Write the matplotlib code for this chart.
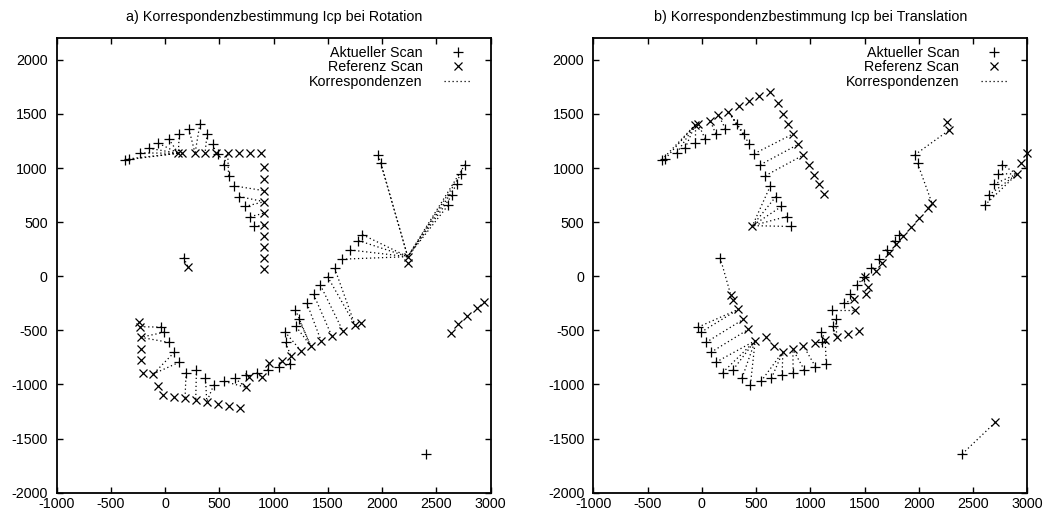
import numpy as np
import matplotlib
matplotlib.use("Agg")
import matplotlib.pyplot as plt
from matplotlib.collections import LineCollection

plt.rcParams['font.family'] = ['Liberation Sans', 'DejaVu Sans']
plt.rcParams['axes.unicode_minus'] = False

# current scan (same in both panels)
scan_x = [-369, -338, -230, -154, -62, 31, 129, 218, 320, 386, 439, 482, 538,
          584, 632, 683, 734, 783, 821,
          169,
          -35, -8, 38, 83, 130, 192, 288, 371, 448, 545, 642, 740, 842, 945,
          1047, 1147,
          1102, 1110, 1205, 1233, 1200, 1306, 1367, 1429, 1496, 1561, 1629,
          1705, 1780, 1818,
          1963, 1988, 2606, 2643, 2689, 2729, 2763,
          2400]
scan_y = [1075, 1085, 1140, 1183, 1230, 1270, 1316, 1362, 1410, 1318, 1222,
          1132, 1030, 928, 836, 737, 645, 552, 460,
          172,
          -470, -517, -612, -703, -794, -890, -864, -940, -1003, -972, -942,
          -917, -890, -866, -835, -811,
          -512, -612, -464, -398, -310, -249, -166, -80, -3, 75, 158, 243,
          330, 384,
          1122, 1045, 655, 748, 850, 948, 1032,
          -1642]

# reference scan, rotated case
rot_x = [121, 152, 275, 367, 468, 576, 680, 782, 883,
         911, 911, 911, 911, 911, 911, 911, 911, 911, 911,
         213,
         2235, 2235,
         2631, 2702, 2784, 2871, 2941,
         -239, -232, -226, -226, -226, -207, -110, -64, -18, 81, 183, 281,
         383, 484, 588, 690, 742, 775, 889, 960, 1074, 1157, 1249, 1341,
         1436, 1535, 1636, 1749, 1802]
rot_y = [1137, 1137, 1137, 1137, 1137, 1137, 1137, 1137, 1137,
         1007, 896, 791, 689, 582, 474, 372, 274, 172, 67,
         83,
         181, 120,
         -521, -441, -367, -296, -240,
         -419, -466, -564, -672, -773, -891, -903, -1014, -1097, -1112,
         -1127, -1143, -1159, -1180, -1198, -1214, -1026, -933, -933, -797,
         -780, -736, -687, -644, -595, -552, -503, -450, -429]

# reference scan, translated case
trans_x = [-62, -35, 77, 153, 245, 344, 439, 531, 630, 701, 744, 793, 839,
           891, 937, 990, 1036, 1079, 1128,
           467,
           267, 292, 338, 384, 430, 492, 593, 667, 747, 839, 937, 1039, 1137,
           1245, 1350, 1450,
           1405, 1415, 1510, 1535, 1500, 1608, 1660, 1728, 1790, 1854, 1928,
           2005, 2081, 2122,
           2260, 2281, 2906, 2946, 2998,
           2706]
trans_y = [1398, 1410, 1438, 1491, 1522, 1576, 1622, 1668, 1707, 1599, 1497,
           1408, 1315, 1220, 1121, 1029, 937, 851, 758,
           468,
           -173, -219, -305, -397, -490, -595, -564, -644, -697, -675, -644,
           -613, -589, -564, -532, -510,
           -212, -310, -160, -98, -4, 49, 126, 213, 295, 372, 453, 542, 628,
           674,
           1423, 1352, 945, 1044, 1142,
           -1349]

titles = ["a) Korrespondenzbestimmung Icp bei Rotation",
          "b) Korrespondenzbestimmung Icp bei Translation"]
max_dist = 1100
fs = 10.3


def correspondences(ax_, ay_, bx_, by_):
    a = np.column_stack([ax_, ay_]).astype(float)
    b = np.column_stack([bx_, by_]).astype(float)
    segs = []
    for p in a:
        d = np.hypot(b[:, 0] - p[0], b[:, 1] - p[1])
        i = np.argmin(d)
        if d[i] < max_dist:
            segs.append([p, b[i]])
    return segs


fig = plt.figure(figsize=(10.54, 5.19), dpi=100)
positions = [[0.0538, 0.0507, 0.4118, 0.8767],
             [0.5629, 0.0507, 0.4118, 0.8767]]
refs = [(rot_x, rot_y), (trans_x, trans_y)]

for pos, (rx, ry), title in zip(positions, refs, titles):
    ax = fig.add_axes(pos)
    ax.plot(scan_x, scan_y, "+", color="black", ms=6.5, mew=0.9,
            label="Aktueller Scan", clip_on=False)
    ax.plot(rx, ry, "x", color="black", ms=5.5, mew=0.9,
            label="Referenz Scan", clip_on=False)
    lc = LineCollection(correspondences(scan_x, scan_y, rx, ry),
                        colors="black", linewidths=0.9,
                        linestyles=[(0, (1, 2.2))], label="Korrespondenzen")
    ax.add_collection(lc)

    ax.set_xlim(-1000, 3000)
    ax.set_ylim(-2000, 2205)
    ax.set_xticks(np.arange(-1000, 3001, 500))
    ax.set_yticks(np.arange(-2000, 2001, 500))
    ax.tick_params(direction="in", length=4.5, width=1.0, labelsize=fs,
                   top=True, right=True)
    ax.tick_params(axis="x", pad=3)
    ax.tick_params(axis="y", pad=6.5)
    for s in ax.spines.values():
        s.set_linewidth(1.3)
    ax.set_title(title, fontsize=fs, pad=12)

    leg = ax.legend(loc="upper right", bbox_to_anchor=(0.955, 0.982),
                    frameon=False, markerfirst=False, fontsize=fs,
                    borderpad=0, labelspacing=0.04, handlelength=1.9,
                    handletextpad=1.5, borderaxespad=0)
    for t in leg.get_texts():
        t.set_ha("right")

fig.savefig("out.png", dpi=100)
plt.close(fig)
